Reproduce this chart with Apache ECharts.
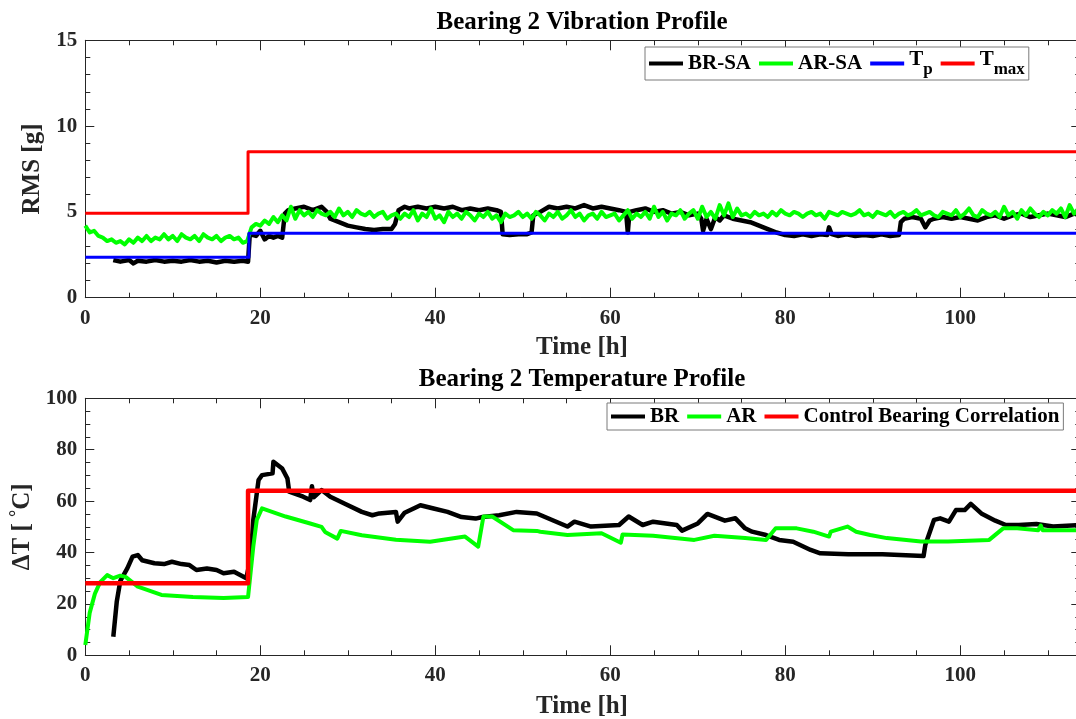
<!DOCTYPE html>
<html>
<head>
<meta charset="utf-8">
<title>Bearing 2 profiles</title>
<script src="https://cdn.jsdelivr.net/npm/echarts@6/dist/echarts.min.js"></script>
<style>
  html, body { margin: 0; padding: 0; background: #fff; }
  #chart { width: 1076px; height: 719px; }
</style>
</head>
<body>
<div id="chart"></div>
<script>
// ---- data ----
// vibration (top)
const brsaTime = [3.2, 4, 5, 5.5, 6, 7, 8, 9, 10, 11, 12, 13, 14, 15, 16, 17, 18, 18.6, 18.8, 19.5, 20, 20.5, 21, 21.5, 22, 22.5, 22.8, 23.2, 24, 25, 26, 27, 27.6, 28, 29, 30, 31, 32, 33, 34, 35, 35.4, 35.8, 36.5, 37, 38, 39, 40, 41, 42, 43, 44, 45, 46, 47, 47.5, 47.7, 48.5, 49.5, 50.5, 51, 51.2, 52, 53, 54, 55, 56, 57, 58, 59, 60, 61, 61.8, 62, 62.2, 63, 64, 65, 66, 67, 68, 69, 70, 70.4, 70.6, 71, 71.5, 72, 72.5, 73, 74, 75, 76, 77, 78, 79, 80, 81, 82, 83, 84, 84.8, 85, 85.3, 86, 87, 88, 89, 90, 91, 92, 93, 93.2, 93.6, 94.5, 95.5, 96, 96.5, 97, 98, 99, 100, 101, 102, 103, 104, 105, 106, 107, 108, 109, 110, 111, 112, 113, 113.7];
const brsaRms = [2.2, 2.1, 2.2, 2.0, 2.15, 2.1, 2.2, 2.1, 2.15, 2.1, 2.2, 2.1, 2.15, 2.05, 2.15, 2.1, 2.15, 2.1, 3.7, 3.6, 3.9, 3.4, 3.6, 3.5, 3.6, 3.5, 4.9, 5.1, 5.2, 5.3, 5.1, 5.3, 5.0, 4.6, 4.4, 4.2, 4.1, 4.0, 3.95, 4.0, 4.0, 4.3, 5.1, 5.3, 5.2, 5.3, 5.2, 5.3, 5.2, 5.3, 5.1, 5.2, 5.1, 5.2, 5.1, 5.0, 3.7, 3.65, 3.7, 3.7, 3.8, 4.8, 5.0, 5.3, 5.2, 5.3, 5.2, 5.4, 5.2, 5.3, 5.2, 5.1, 5.0, 3.8, 5.0, 5.1, 5.2, 5.0, 5.1, 4.9, 5.0, 4.8, 4.9, 4.6, 3.9, 4.6, 4.0, 4.7, 4.5, 4.8, 4.6, 4.5, 4.4, 4.2, 4.0, 3.8, 3.65, 3.6, 3.7, 3.6, 3.7, 3.65, 4.1, 3.7, 3.6, 3.7, 3.6, 3.65, 3.6, 3.7, 3.6, 3.65, 4.4, 4.6, 4.7, 4.6, 4.1, 4.5, 4.6, 4.7, 4.6, 4.7, 4.6, 4.5, 4.7, 4.8, 4.6, 4.8, 4.9, 4.7, 4.8, 4.9, 4.8, 4.7, 4.9, 4.8];
// AR-SA sampled every 0.5 h from t = 0
const arsaStep = 0.5;
const arsaRms = [
  4.2, 3.8, 3.9, 3.6, 3.5, 3.3, 3.4, 3.2, 3.3, 3.1, 3.4, 3.2, 3.5, 3.3, 3.6, 3.3, 3.5, 3.4, 3.7, 3.4,
  3.6, 3.3, 3.7, 3.5, 3.4, 3.6, 3.3, 3.7, 3.5, 3.4, 3.6, 3.3, 3.5, 3.6, 3.4, 3.5, 3.2, 3.3, 4.1, 4.3,
  4.2, 4.5, 4.3, 4.7, 4.4, 4.8, 4.5, 5.3, 4.6, 5.1, 4.8, 5.0, 4.7, 5.1, 4.9, 4.8, 5.0, 4.7, 5.2, 4.8,
  5.0, 4.7, 5.1, 4.9, 4.8, 5.0, 4.7, 4.9, 5.0, 4.6, 4.8, 4.9, 4.6, 4.9, 4.7, 5.1, 4.5, 4.9, 4.7, 5.2,
  4.6, 4.8, 4.4, 5.0, 4.7, 4.9, 4.6, 5.0, 4.8, 4.5, 4.9, 4.7, 5.0, 4.6, 4.8, 4.4, 4.9, 4.7, 4.8, 5.0,
  4.7, 4.9, 4.6, 5.0, 4.8, 4.5, 4.9, 4.7, 5.0, 4.6, 4.8, 5.1, 4.7, 4.9, 4.5, 4.8, 4.9, 4.6, 5.0, 4.7,
  4.8, 4.9, 4.5, 4.8, 5.1, 4.6, 4.9, 4.7, 5.0, 4.6, 5.3, 4.7, 5.0, 4.5, 4.9, 4.8, 5.1, 4.6, 4.9, 5.1,
  4.6, 5.3, 4.7, 5.0, 4.6, 5.4, 4.8, 5.5, 4.7, 5.2, 4.8, 4.9, 4.7, 5.0, 4.8, 4.9, 4.7, 5.0, 4.8, 5.1,
  4.9, 4.8, 5.0, 4.9, 4.7, 4.9, 5.0, 4.8, 4.9, 4.6, 5.0, 4.9, 4.8, 5.0, 4.9, 4.8, 4.9, 5.1, 4.8, 4.9,
  4.7, 5.0, 4.9, 4.8, 5.0, 4.7, 4.9, 5.0, 4.8, 4.9, 5.1, 4.8, 4.9, 5.0, 4.8, 4.7, 5.0, 4.9, 4.8, 5.1,
  4.7, 4.9, 5.2, 4.8, 4.7, 5.1, 4.9, 4.8, 5.0, 4.7, 5.3, 4.8, 5.0, 4.6, 5.1, 4.8, 5.2, 4.9, 4.7, 5.0,
  4.8, 5.1, 4.9, 5.2, 4.7, 5.4, 4.9, 5.2
];
const tpTime = [0, 18.7, 18.7, 113.7];
const tpRms = [2.35, 2.35, 3.75, 3.75];
const tmaxTime = [0, 18.6, 18.6, 113.7];
const tmaxRms = [4.92, 4.92, 8.5, 8.5];

// temperature (bottom)
const brTime = [3.2, 3.6, 4.0, 4.8, 5.4, 6.0, 6.5, 7.9, 9.0, 9.9, 11, 11.9, 12.7, 13.9, 15, 15.8, 17, 18.4, 18.9, 19.2, 19.8, 20.2, 21.4, 21.5, 22.5, 23.1, 23.3, 24.9, 25.7, 25.9, 26.1, 27, 28, 29.6, 31.6, 32.8, 33.6, 35.5, 35.7, 36.5, 38.3, 39.8, 41.4, 43, 44.6, 45.4, 47.3, 49.3, 51.6, 52, 55.1, 55.9, 57.8, 61, 62.1, 63.7, 64.9, 67.6, 68.2, 70, 71.1, 73.1, 74.3, 75.4, 76.2, 77.8, 79.3, 80.9, 82.9, 84, 87.2, 91.1, 95.8, 96, 97, 97.7, 98.7, 99.5, 100.5, 101.2, 102.4, 104, 105.2, 106.7, 108.7, 110.6, 113.7];
const brDT = [7.2, 21, 29, 33.8, 38.4, 39, 37, 35.8, 35.5, 36.4, 35.5, 35.1, 33.2, 33.8, 33.2, 31.9, 32.5, 30, 38, 52.7, 68.2, 70.1, 70.8, 75.3, 72.7, 68.8, 63.7, 61.7, 60.4, 65.8, 61.5, 64.3, 61.7, 59.1, 55.8, 54.5, 55.2, 55.8, 52, 55.5, 58.4, 57.1, 55.8, 53.8, 53.2, 53.8, 54.5, 55.8, 55.2, 54.6, 50.1, 52, 50.1, 50.7, 54, 50.7, 52, 50.7, 48.5, 51.3, 55, 52.4, 53.3, 49.4, 48.1, 46.8, 44.9, 44.2, 41, 39.7, 39.3, 39.3, 38.6, 42.9, 52.7, 53.3, 52, 56.5, 56.5, 58.9, 55.2, 52.4, 50.7, 50.7, 51.1, 50.1, 50.7];
const arTime = [0, 0.5, 1.1, 1.7, 2.5, 3.2, 4, 4.6, 6, 8.7, 12.3, 15.8, 18.6, 19.2, 19.6, 20.2, 22.9, 25.7, 27, 27.4, 28.8, 29.2, 31.6, 35.5, 39.4, 43.4, 44.9, 45.5, 46.5, 48.9, 51.6, 52, 55.1, 59, 61.2, 61.4, 64.9, 69.6, 71.9, 75.4, 77.8, 78.9, 81.3, 83.2, 85, 85.2, 87.1, 88.1, 89.7, 91.6, 95.5, 98.6, 103.3, 104.9, 106.5, 108.9, 109.2, 109.4, 113.7];
const arDT = [4, 16.5, 24, 28.5, 31.2, 30, 31, 30.5, 26.7, 23.5, 22.7, 22.3, 22.7, 42.3, 52.7, 57.2, 54, 51.3, 50, 48, 45.4, 48.4, 46.7, 45, 44.2, 46.2, 42.3, 54, 54, 48.7, 48.4, 48.1, 46.8, 47.5, 43.8, 47, 46.5, 44.9, 46.5, 45.6, 44.9, 49.4, 49.4, 48.1, 46.2, 48.1, 50.1, 48.1, 46.8, 45.6, 44.3, 44.3, 44.9, 49.4, 49.4, 48.7, 50.5, 48.7, 48.7];
const ctrlTime = [0, 18.6, 18.6, 113.7];
const ctrlDT = [28, 28, 64, 64];

const timeTicks = { min: 0, max: 120, interval: 20 };
const rmsTicks = { min: 0, max: 15, interval: 5 };
const dtTicks = { min: 0, max: 100, interval: 20 };

// ---- chart ----
const FONT = "'Liberation Serif', 'Times New Roman', serif";
const AX = '#262626';
const pairs = (ts, vs) => ts.map((t, i) => [t, vs[i]]);

const myChart = echarts.init(document.getElementById('chart'));

function xAxes(gridIndex, ticks) {
    const base = {
        gridIndex: gridIndex, type: 'value', min: ticks.min, max: ticks.max, interval: ticks.interval,
        splitLine: { show: false },
        axisLine: { show: true, onZero: false, lineStyle: { color: AX, width: 1 } },
        axisTick: { show: true, inside: true, length: 10, lineStyle: { color: AX } },
        minorTick: { show: true, splitNumber: 4, length: 5, lineStyle: { color: AX } },
    };
    return [
        Object.assign({}, base, {
            position: 'bottom',
            axisLabel: { show: true, margin: 10, color: AX, fontFamily: FONT, fontWeight: 'bold', fontSize: 21 }
        }),
        Object.assign({}, base, { position: 'top', axisLabel: { show: false } })
    ];
}

function yAxes(gridIndex, ticks, minorSplit, name) {
    const base = {
        gridIndex: gridIndex, type: 'value', min: ticks.min, max: ticks.max, interval: ticks.interval,
        splitLine: { show: false },
        axisTick: { show: true, inside: true, length: 9, lineStyle: { color: AX } },
        minorTick: { show: true, splitNumber: minorSplit, length: 5, lineStyle: { color: AX } },
    };
    return [
        Object.assign({}, base, {
            position: 'left',
            axisLine: { show: true, onZero: false, lineStyle: { color: AX, width: 1 } },
            axisLabel: { show: true, margin: 8, color: AX, fontFamily: FONT, fontWeight: 'bold', fontSize: 21 },
            name: name.text, nameLocation: 'middle', nameRotate: 90, nameGap: name.gap,
            nameTextStyle: name.style
        }),
        // mirrored ticks of the box's right side (sits just past the picture's edge)
        Object.assign({}, base, {
            position: 'right', offset: -55,
            axisLine: { show: false, onZero: false },
            axisLabel: { show: false }
        })
    ];
}

const nameStyle = { color: AX, fontFamily: FONT, fontWeight: 'bold', fontSize: 25 };

function line(name, data, color, width, xi, yi) {
    return {
        name: name, type: 'line', data: data, xAxisIndex: xi, yAxisIndex: yi,
        showSymbol: false, symbol: 'none', animation: false, clip: true,
        itemStyle: { color: color },
        lineStyle: { color: color, width: width, join: 'round' }
    };
}

const legendBase = {
    selectedMode: false, orient: 'horizontal', icon: 'rect', itemWidth: 34, itemHeight: 4, itemGap: 8,
    backgroundColor: '#fff', borderColor: '#7a7a7a', borderWidth: 1, borderRadius: 0,
    textStyle: {
        color: '#000', fontFamily: FONT, fontWeight: 'bold', fontSize: 21,
        rich: {
            t: { fontFamily: FONT, fontWeight: 'bold', fontSize: 21, color: '#000', verticalAlign: 'top', padding: [0, 0, 8, 0] },
            s: { fontFamily: FONT, fontWeight: 'bold', fontSize: 17, color: '#000', verticalAlign: 'bottom', padding: [12, 0, 0, 0] }
        }
    }
};

let option = {
    backgroundColor: '#fff',
    animation: false,
    grid: [
        { left: 85.3, top: 40.3, width: 1050, height: 257.4, outerBoundsMode: 'none' },
        { left: 85.3, top: 398.3, width: 1050, height: 257, outerBoundsMode: 'none' }
    ],
    xAxis: xAxes(0, timeTicks).concat(xAxes(1, timeTicks)),
    yAxis: yAxes(0, rmsTicks, 5, { text: 'RMS [g]', gap: 34, style: nameStyle })
        .concat(yAxes(1, dtTicks, 4, {
            text: '{a|\u0394T [ }{d|\u00b0}{a|C]}', gap: 34,
            style: Object.assign({}, nameStyle, {
                rich: {
                    a: { color: AX, fontFamily: FONT, fontWeight: 'bold', fontSize: 25, verticalAlign: 'bottom' },
                    d: { color: AX, fontFamily: FONT, fontWeight: 'bold', fontSize: 18, verticalAlign: 'top', padding: [0, 0, 9, 0] }
                }
            })
        })),
    legend: [
        Object.assign({}, legendBase, {
            top: 47, left: 645, padding: [2, 4, 2, 4],
            data: ['BR-SA', 'AR-SA', 'Tp', 'Tmax'],
            formatter: function (n) {
                if (n === 'Tp') return '{t|T}{s|p}';
                if (n === 'Tmax') return '{t|T}{s|max}';
                return n;
            }
        }),
        Object.assign({}, legendBase, {
            top: 403, left: 607, padding: [3, 4, 3, 4],
            data: ['BR', 'AR', 'Control Bearing Correlation']
        })
    ],
    graphic: [
        { type: 'text', x: 582, y: 22.5, style: { text: 'Bearing 2 Vibration Profile', fill: '#000', font: 'bold 25px ' + FONT, align: 'center', verticalAlign: 'middle' } },
        { type: 'text', x: 582, y: 348, style: { text: 'Time [h]', fill: AX, font: 'bold 25px ' + FONT, align: 'center', verticalAlign: 'middle' } },
        { type: 'text', x: 582, y: 380, style: { text: 'Bearing 2 Temperature Profile', fill: '#000', font: 'bold 25px ' + FONT, align: 'center', verticalAlign: 'middle' } },
        { type: 'text', x: 582, y: 707, style: { text: 'Time [h]', fill: AX, font: 'bold 25px ' + FONT, align: 'center', verticalAlign: 'middle' } }
    ],
    series: [
        line('BR-SA', pairs(brsaTime, brsaRms), '#000000', 4.5, 0, 0),
        line('AR-SA', arsaRms.map((v, i) => [i * arsaStep, v]), '#00ff00', 4, 0, 0),
        line('Tp', pairs(tpTime, tpRms), '#0000ff', 3, 0, 0),
        line('Tmax', pairs(tmaxTime, tmaxRms), '#ff0000', 3, 0, 0),
        line('BR', pairs(brTime, brDT), '#000000', 4.5, 2, 2),
        line('AR', pairs(arTime, arDT), '#00ff00', 4, 2, 2),
        line('Control Bearing Correlation', pairs(ctrlTime, ctrlDT), '#ff0000', 4.5, 2, 2)
    ]
};

myChart.setOption(option);
window.addEventListener('resize', function () {
    myChart.resize();
});
</script>
</body>
</html>
